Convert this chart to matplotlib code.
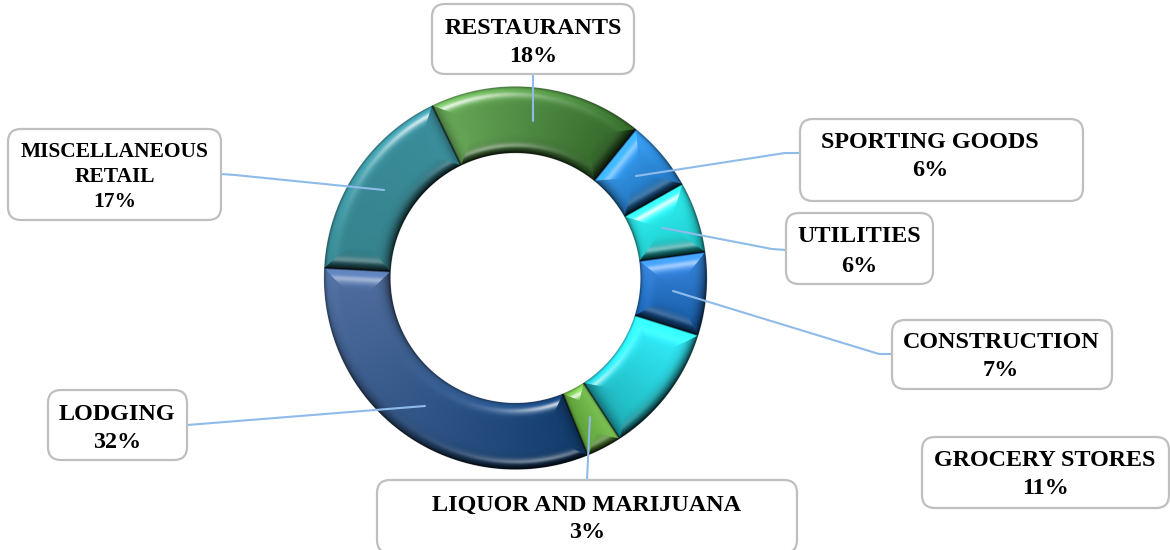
import numpy as np
import matplotlib
matplotlib.use('Agg')
import matplotlib.pyplot as plt
from matplotlib.patches import FancyBboxPatch

# data, clockwise from the top-left segment
labels = ['RESTAURANTS', 'SPORTING GOODS', 'UTILITIES', 'CONSTRUCTION',
          'GROCERY STORES', 'LIQUOR AND MARIJUANA', 'LODGING',
          'MISCELLANEOUS\nRETAIL']
values = [18, 6, 6, 7, 11, 3, 32, 17]

# colours at the start / end of each segment (clockwise)
colors_a = ['#69aa59', '#379cf0', '#2ff2f2', '#3a88e2', '#32f2ff', '#7cc454', '#123d6e', '#35848e']
colors_b = ['#33682a', '#2276c0', '#1fcccc', '#155ca6', '#1fb4bc', '#5da03a', '#516fa0', '#3b8e9c']

W, H = 1170, 550
cx, cy = 515.5, 278.0
r_out, r_in = 191.5, 125.0
start_deg = -25.8   # clockwise from 12 o'clock

# box: x0, y0, x1, y1, text x, first line y, line step, font size
boxes = [
    (432, 4, 634, 74, 533, 28, 28, 17.4),
    (800, 119, 1083, 201, 930, 142, 29, 17.4),
    (786, 213, 933, 284, 859, 237, 29, 17.4),
    (892, 320, 1112, 389, 1001, 343, 28, 17.4),
    (922, 437, 1169, 508, 1045, 461, 28, 17.4),
    (377, 480, 797, 553, 587, 505, 28, 17.4),
    (48, 390, 187, 460, 117, 414, 28, 17.4),
    (8, 129, 221, 220, 115, 152, 25, 15.5),
]
# leader lines, picture pixels
leaders = [
    [(533, 74), (533, 121)],
    [(800, 153), (785, 153), (636, 176)],
    [(786, 250), (772, 249), (663, 228)],
    [(892, 354), (879, 354), (673, 291)],
    [],
    [(587, 480), (590, 417)],
    [(187, 425), (200, 424), (425, 406)],
    [(221, 174), (235, 175), (384, 190)],
]


def hex_rgb(c):
    return np.array(matplotlib.colors.to_rgb(c))


def smooth(a, b, x):
    t = np.clip((x - a) / (b - a), 0, 1)
    return t * t * (3 - 2 * t)


def donut_image(ss=3):
    # shaded bevel ring, worked out per pixel then averaged down
    x0, x1 = int(cx - r_out - 3), int(cx + r_out + 3)
    y0, y1 = int(cy - r_out - 3), int(cy + r_out + 3)
    xs = (np.arange((x1 - x0) * ss) + 0.5) / ss + x0
    ys = (np.arange((y1 - y0) * ss) + 0.5) / ss + y0
    X, Y = np.meshgrid(xs, ys)
    dx, dy = X - cx, Y - cy
    r = np.hypot(dx, dy)
    ang = (np.degrees(np.arctan2(dx, -dy)) - start_deg) % 360

    edges = np.concatenate([[0], np.cumsum(values)]) * 3.6
    idx = np.clip(np.searchsorted(edges, ang, side='right') - 1, 0, len(values) - 1)
    a0, a1 = edges[idx], edges[idx + 1]

    er = np.stack([dx, dy]) / np.maximum(r, 1e-6)   # radial unit vector
    et = np.stack([-er[1], er[0]])                  # clockwise tangent

    d_out = r_out - r
    d_in = r - r_in
    d_s = np.radians(ang - a0) * r
    d_e = np.radians(a1 - ang) * r
    dist = np.stack([d_out, d_in, d_s, d_e])
    near = dist.argmin(axis=0)
    d = np.take_along_axis(dist, near[None], axis=0)[0]

    # bevel is narrower along the rims, wider at the segment ends
    width = np.choose(near, [20.0, 20.0, 24.0, 24.0])
    # thin slice gets a thinner end bevel
    width = np.where((near >= 2) & (a1 - a0 < 15), 9.0, width)
    dir_sign = np.choose(near, [1.0, -1.0, -1.0, 1.0])
    nx = np.where(near < 2, er[0], et[0]) * dir_sign
    ny = np.where(near < 2, er[1], et[1]) * dir_sign

    u = np.clip(1 - d / width, 0, 1)
    slope = 0.16 * u + 1.1 * u ** 3
    # rims stay rounded under the end facets
    rim = np.clip(1 - np.minimum(d_out, d_in) / 5.0, 0, 1)
    n = np.stack([nx * slope, ny * slope, np.ones_like(slope)])
    n /= np.linalg.norm(n, axis=0)

    light = np.array([-0.26, -0.60, 0.76])
    light /= np.linalg.norm(light)
    view = np.array([0, 0, 1.0])
    half = (light + view) / np.linalg.norm(light + view)
    back = np.array([0.10, 0.62, 0.78])
    back /= np.linalg.norm(back)
    half2 = (back + view) / np.linalg.norm(back + view)

    diff = np.clip(n[0] * light[0] + n[1] * light[1] + n[2] * light[2], 0, 1)
    spec = np.clip(n[0] * half[0] + n[1] * half[1] + n[2] * half[2], 0, 1) ** 75
    spec2 = np.clip(n[0] * half2[0] + n[1] * half2[1] + n[2] * half2[2], 0, 1) ** 90
    # highlights sit on the tilted bevels only, not on the flat top
    on_bevel = smooth(0.2, 0.42, u)
    spec *= on_bevel
    spec2 *= on_bevel

    t = ((ang - a0) / (a1 - a0))[..., None]
    ca = np.array([hex_rgb(c) for c in colors_a])
    cb = np.array([hex_rgb(c) for c in colors_b])
    base = ca[idx] * (1 - t) + cb[idx] * t

    shade = (0.16 + 1.10 * diff)[..., None]
    rgb = base * shade
    # dark rim
    rgb *= (1 - 0.45 * rim ** 3)[..., None]
    rgb = rgb + (spec * 0.8)[..., None] * (1 - rgb)
    rgb = rgb + (spec2 * 0.4)[..., None] * (1 - rgb)
    # seam between segments
    seam = smooth(0.0, 1.6, np.minimum(d_s, d_e))[..., None]
    rgb *= 0.35 + 0.65 * seam
    rgb = np.clip(rgb, 0, 1)

    alpha = smooth(-0.5, 0.5, d_out) * smooth(-0.5, 0.5, d_in)
    # average down with premultiplied alpha
    h, w = alpha.shape
    pre = (rgb * alpha[..., None]).reshape(h // ss, ss, w // ss, ss, 3).mean(axis=(1, 3))
    a = alpha.reshape(h // ss, ss, w // ss, ss).mean(axis=(1, 3))
    out = np.dstack([pre / np.maximum(a, 1e-4)[..., None], a])
    return np.clip(out, 0, 1), (x0, x1, H - y1, H - y0)


plt.rcParams['font.family'] = ['Liberation Serif', 'DejaVu Serif']
fig = plt.figure(figsize=(W / 100, H / 100), dpi=100, facecolor='white')
ax = fig.add_axes([0, 0, 1, 1])

# base ring
ax.pie(values, startangle=90 - start_deg, counterclock=False, radius=r_out - 0.6,
       center=(cx, H - cy), colors=colors_a,
       wedgeprops=dict(width=r_out - r_in - 1.2, linewidth=0, zorder=1), normalize=True)

img, extent = donut_image()
ax.imshow(img, extent=extent, origin='upper', interpolation='nearest', aspect='auto', zorder=2)

for pts in leaders:
    if pts:
        ax.plot([p[0] for p in pts], [H - p[1] for p in pts], color='#8fbbea',
                lw=1.5, zorder=3, solid_capstyle='round', solid_joinstyle='round')

for lab, val, b in zip(labels, values, boxes):
    x0, y0, x1, y1, tx, ty, step, fs = b
    ax.add_patch(FancyBboxPatch((x0, H - y1), x1 - x0, y1 - y0,
                                boxstyle='round,pad=0,rounding_size=13',
                                fc='white', ec='#bfbfbf', lw=1.6, zorder=4))
    lines = lab.split('\n') + [f'{val}%']
    for i, line in enumerate(lines):
        ax.text(tx, H - (ty + i * step), line, ha='center', va='center',
                fontsize=fs, fontweight='bold', color='black', zorder=5)

ax.set_xlim(0, W)
ax.set_ylim(0, H)
ax.set_aspect('auto')
ax.axis('off')
fig.savefig('out.png', dpi=100, facecolor='white')
